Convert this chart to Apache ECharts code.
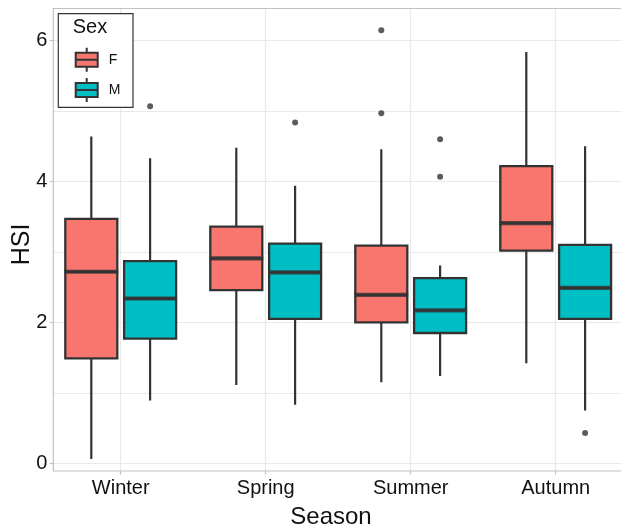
<!DOCTYPE html>
<html>
<head>
<meta charset="utf-8">
<script src="https://cdn.jsdelivr.net/npm/echarts@6/dist/echarts.min.js"></script>
<style>
  html, body { margin: 0; padding: 0; background: #fff; }
  #chart { width: 621px; height: 530px; }
</style>
</head>
<body>
<div id="chart"></div>
<script>
// ---- data ----
const categories = ['Winter', 'Spring', 'Summer', 'Autumn'];
const yTickLabels = [0, 2, 4, 6];
const legendNames = ['F', 'M'];

// Female (F) box statistics per season
const fLow  = [0.06, 1.11, 1.15, 1.42];
const fQ1   = [1.49, 2.46, 2.00, 3.02];
const fMed  = [2.72, 2.91, 2.39, 3.41];
const fQ3   = [3.47, 3.36, 3.09, 4.22];
const fHigh = [4.64, 4.48, 4.46, 5.84];
const fOutliers = [['Summer', 6.15], ['Summer', 4.97]];

// Male (M) box statistics per season
const mLow  = [0.89, 0.83, 1.24, 0.75];
const mQ1   = [1.77, 2.05, 1.85, 2.05];
const mMed  = [2.34, 2.71, 2.17, 2.49];
const mQ3   = [2.87, 3.12, 2.63, 3.10];
const mHigh = [4.33, 3.94, 2.81, 4.50];
const mOutliers = [['Winter', 5.07], ['Spring', 4.84], ['Summer', 4.60], ['Summer', 4.07], ['Autumn', 0.43]];

// ---- styling ----
const colF = '#F8766D', colM = '#00BFC4';
const ink = '#333333';
const gridCol = '#e9e9e9';
const borderCol = '#c2c2c2';
const textCol = '#111111';
const FONT = "'Liberation Sans', Arial, Helvetica, sans-serif";

const PANEL = { left: 53.3, top: 8.5, bottom: 471 };
const Y0 = 463.3, PX_PER_UNIT = 70.43;
const yMaxPanel = (Y0 - PANEL.top) / PX_PER_UNIT;
const yMinPanel = (Y0 - PANEL.bottom) / PX_PER_UNIT;
const BAND = 145, CENTER0 = 120.7, DODGE = 29.4, BOXW = 52;

function whiskerData(lo, q1, md, q3, hi) { return categories.map((c, i) => [lo[i], q1[i], md[i], q3[i], hi[i]]); }
function boxData(q1, md, q3) { return categories.map((c, i) => [q1[i], q1[i], md[i], q3[i], q3[i]]); }
function medData(md) { return categories.map((c, i) => [c, md[i]]); }

// categories placed on the grid edges (boundaryGap false) so every grid stays inside the page
const hiddenCat = (gi) => ({ type: 'category', gridIndex: gi, data: categories, show: false, boundaryGap: false });
const hiddenVal = (gi) => ({ type: 'value', gridIndex: gi, show: false, min: yMinPanel, max: yMaxPanel, splitLine: { show: false } });
const dodgeGrid = (shift) => ({ left: CENTER0 + shift, width: BAND * (categories.length - 1), top: PANEL.top, height: PANEL.bottom - PANEL.top });

const chart = echarts.init(document.getElementById('chart'), null, { renderer: 'canvas' });

const keyPath = 'path://M0,5L22,5L22,19L0,19Z M0,12L22,12 M11,0L11,5 M11,19L11,24';

// gw: grid/axis index for whiskers, gb: grid/axis index for boxes, medians, outliers
function seriesFor(name, gw, gb, lo, q1, md, q3, hi, outl, col) {
  return [
    { name: name + ' whisker', type: 'boxplot', xAxisIndex: gw, yAxisIndex: gw, silent: true,
      boxWidth: [0, 0], data: whiskerData(lo, q1, md, q3, hi), z: 2,
      itemStyle: { color: 'rgba(0,0,0,0)', borderColor: ink, borderWidth: 2.2 },
      emphasis: { disabled: true } },
    { name: name, type: 'boxplot', xAxisIndex: gb, yAxisIndex: gb, silent: true,
      boxWidth: [BOXW, BOXW], data: boxData(q1, md, q3), z: 3,
      itemStyle: { color: col, borderColor: ink, borderWidth: 2.3 },
      emphasis: { disabled: true } },
    { name: name + ' median', type: 'scatter', xAxisIndex: gb, yAxisIndex: gb, silent: true,
      symbol: 'rect', symbolSize: [BOXW + 2, 4.2], data: medData(md), z: 4,
      itemStyle: { color: ink }, emphasis: { disabled: true } },
    { name: name + ' outlier', type: 'scatter', xAxisIndex: gb, yAxisIndex: gb, silent: true,
      symbol: 'circle', symbolSize: 6, data: outl, z: 4,
      itemStyle: { color: ink }, emphasis: { disabled: true } }
  ];
}

const option = {
  animation: false,
  backgroundColor: '#ffffff',
  textStyle: { fontFamily: FONT },
  grid: [
    // 0: category labels + vertical grid lines
    { left: CENTER0, width: BAND * (categories.length - 1), top: PANEL.top, height: PANEL.bottom - PANEL.top },
    // 1: y axis labels + horizontal grid lines
    { left: PANEL.left, right: 0, top: Y0 - 6 * PX_PER_UNIT, bottom: 530 - Y0 },
    dodgeGrid(-DODGE), // 2: F boxes
    dodgeGrid(DODGE),  // 3: M boxes
    dodgeGrid(-DODGE), // 4: F whiskers
    dodgeGrid(DODGE)   // 5: M whiskers
  ],
  xAxis: [
    { type: 'category', gridIndex: 0, data: categories, boundaryGap: false,
      axisLine: { show: false },
      axisTick: { show: true, length: 3.5, lineStyle: { color: borderCol, width: 1.2 } },
      axisLabel: { fontSize: 20, color: textCol, margin: 7, fontFamily: FONT, interval: 0 },
      splitLine: { show: true, lineStyle: { color: gridCol, width: 1.2 } } },
    { type: 'value', gridIndex: 1, show: false, splitLine: { show: false } },
    hiddenCat(2), hiddenCat(3), hiddenCat(4), hiddenCat(5)
  ],
  yAxis: [
    { type: 'value', gridIndex: 0, show: false, min: 0, max: 1, splitLine: { show: false } },
    { type: 'value', gridIndex: 1, min: 0, max: 6, interval: 2, position: 'left',
      axisLine: { show: false },
      axisTick: { show: true, length: 3.5, lineStyle: { color: borderCol, width: 1.2 } },
      axisLabel: { fontSize: 20, color: textCol, margin: 6, fontFamily: FONT,
        formatter: v => (yTickLabels.indexOf(v) >= 0 ? String(v) : '') },
      splitLine: { show: false } },
    hiddenVal(2), hiddenVal(3), hiddenVal(4), hiddenVal(5),
    { type: 'value', gridIndex: 1, min: 0, max: 6, interval: 1, position: 'left',
      axisLine: { show: false }, axisTick: { show: false }, axisLabel: { show: false },
      splitLine: { show: true, lineStyle: { color: gridCol, width: 1.2 } } }
  ],
  legend: {
    orient: 'vertical', left: 74.7, top: 46.7, padding: 0, z: 10,
    itemWidth: 22, itemHeight: 24, itemGap: 4.3, selectedMode: false,
    textStyle: { fontSize: 14, color: textCol, fontFamily: FONT, padding: [0, 0, 0, 6] },
    data: [
      { name: legendNames[0], icon: keyPath, itemStyle: { color: colF, borderColor: ink, borderWidth: 2 } },
      { name: legendNames[1], icon: keyPath, itemStyle: { color: colM, borderColor: ink, borderWidth: 2 } }
    ]
  },
  graphic: [
    { type: 'rect', z: 1, silent: true,
      shape: { x: PANEL.left, y: PANEL.top, width: 700, height: PANEL.bottom - PANEL.top },
      style: { fill: 'none', stroke: borderCol, lineWidth: 1.2 } },
    { type: 'rect', z: 8, silent: true,
      shape: { x: 58.3, y: 13.7, width: 74.7, height: 93.6 },
      style: { fill: '#ffffff', stroke: ink, lineWidth: 1.2 } },
    { type: 'text', z: 9, silent: true, x: 72.7, y: 27.9,
      style: { text: 'Sex', font: '20px ' + FONT, fill: textCol, align: 'left', verticalAlign: 'middle' } },
    { type: 'text', z: 9, silent: true, x: 22, y: 244.5, rotation: Math.PI / 2,
      style: { text: 'HSI', font: '25px ' + FONT, fill: textCol, align: 'center', verticalAlign: 'middle' } },
    { type: 'text', z: 9, silent: true, x: 331, y: 517.5,
      style: { text: 'Season', font: '24px ' + FONT, fill: textCol, align: 'center', verticalAlign: 'middle' } }
  ],
  series: [].concat(
    seriesFor('F', 4, 2, fLow, fQ1, fMed, fQ3, fHigh, fOutliers, colF),
    seriesFor('M', 5, 3, mLow, mQ1, mMed, mQ3, mHigh, mOutliers, colM)
  )
};

chart.setOption(option);
</script>
</body>
</html>
